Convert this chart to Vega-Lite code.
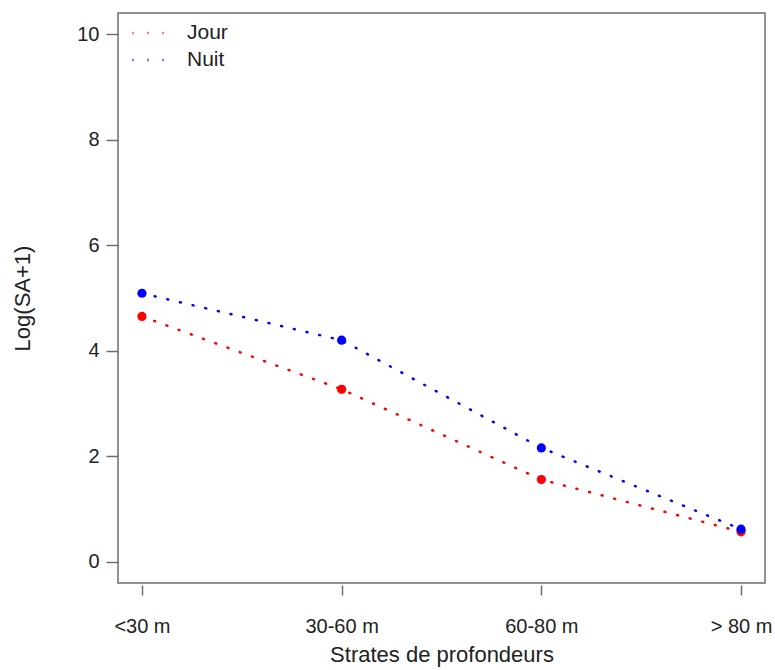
{
  "$schema": "https://vega.github.io/schema/vega-lite/v6.json",
  "width": 647,
  "height": 570,
  "autosize": {"type": "none"},
  "padding": {"left": 118, "top": 13, "right": 10, "bottom": 87},
  "background": "white",
  "config": {
    "font": "Liberation Sans",
    "view": {"stroke": "#6e6e6e", "strokeWidth": 1.5},
    "axis": {
      "grid": false,
      "domain": false,
      "tickColor": "#6e6e6e",
      "tickWidth": 1.5,
      "labelColor": "#222222",
      "titleColor": "#222222",
      "labelFontSize": 20,
      "titleFontSize": 22,
      "titleFontWeight": "normal"
    }
  },
  "data": {
    "values": [
      {"strate": "<30 m", "ordre": 1, "periode": "Jour", "logsa": 4.65},
      {"strate": "30-60 m", "ordre": 2, "periode": "Jour", "logsa": 3.27},
      {"strate": "60-80 m", "ordre": 3, "periode": "Jour", "logsa": 1.56},
      {"strate": "> 80 m", "ordre": 4, "periode": "Jour", "logsa": 0.57},
      {"strate": "<30 m", "ordre": 1, "periode": "Nuit", "logsa": 5.09},
      {"strate": "30-60 m", "ordre": 2, "periode": "Nuit", "logsa": 4.2},
      {"strate": "60-80 m", "ordre": 3, "periode": "Nuit", "logsa": 2.16},
      {"strate": "> 80 m", "ordre": 4, "periode": "Nuit", "logsa": 0.62}
    ]
  },
  "encoding": {
    "x": {
      "field": "strate",
      "type": "ordinal",
      "sort": ["<30 m", "30-60 m", "60-80 m", "> 80 m"],
      "scale": {"type": "point", "padding": 0.12},
      "axis": {
        "title": "Strates de profondeurs",
        "labelAngle": 0,
        "tickSize": 10,
        "offset": 2,
        "labelPadding": 21,
        "titlePadding": 8
      }
    },
    "y": {
      "field": "logsa",
      "type": "quantitative",
      "scale": {"domain": [-0.4, 10.4], "nice": false, "zero": false},
      "axis": {
        "title": "Log(SA+1)",
        "values": [0, 2, 4, 6, 8, 10],
        "tickSize": 12,
        "labelPadding": 7,
        "titlePadding": 42
      }
    },
    "color": {
      "field": "periode",
      "type": "nominal",
      "scale": {"domain": ["Jour", "Nuit"], "range": ["#ff0000", "#0000ff"]}
    }
  },
  "layer": [
    {
      "mark": {"type": "line", "strokeWidth": 2.5, "strokeDash": [1, 12], "strokeCap": "round"},
      "encoding": {
        "color": {
          "field": "periode",
          "type": "nominal",
          "scale": {"domain": ["Jour", "Nuit"], "range": ["#ff0000", "#0000ff"]},
          "legend": {
            "title": null,
            "orient": "none",
            "legendX": 13,
            "legendY": 3,
            "symbolType": "stroke",
            "symbolDash": [1, 14],
            "symbolStrokeWidth": 2.5,
            "symbolSize": 961,
            "labelFontSize": 21,
            "labelColor": "#222222",
            "labelOffset": 22,
            "rowPadding": -4
          }
        }
      }
    },
    {
      "mark": {"type": "point", "filled": true, "size": 85, "opacity": 1},
      "encoding": {
        "color": {
          "field": "periode",
          "type": "nominal",
          "scale": {"domain": ["Jour", "Nuit"], "range": ["#ff0000", "#0000ff"]},
          "legend": null
        }
      }
    }
  ]
}
